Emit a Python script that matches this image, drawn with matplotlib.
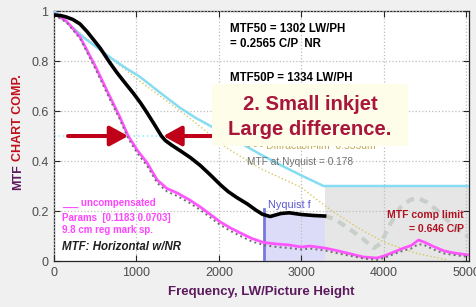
import matplotlib
matplotlib.use("Agg")
import matplotlib.pyplot as plt
from matplotlib.patches import Rectangle, FancyArrowPatch

plt.rcParams['font.family'] = ['Liberation Sans', 'DejaVu Sans']

# --- data ---
freq_black = [0, 80, 150, 230, 316, 400, 480, 559, 680, 760, 838, 960, 1050, 1130,
              1210, 1260, 1302, 1350, 1420, 1531, 1652, 1774, 1900, 2017, 2110, 2211,
              2345, 2450, 2527, 2620, 2750, 2850, 3000, 3150, 3280]
mtf_black = [0.984, 0.982, 0.976, 0.966, 0.948, 0.918, 0.885, 0.852, 0.792, 0.755,
             0.722, 0.672, 0.632, 0.592, 0.55, 0.523, 0.50, 0.482, 0.465, 0.441, 0.414,
             0.382, 0.343, 0.305, 0.278, 0.255, 0.228, 0.203, 0.187, 0.178, 0.19,
             0.193, 0.186, 0.182, 0.18]

freq_mag = [0, 150, 316, 500, 680, 800, 900, 1008, 1130, 1251, 1370, 1494, 1640,
            1774, 1900, 2017, 2140, 2260, 2400, 2540, 2700, 2850, 3000, 3100, 3280,
            3450, 3600, 3750, 3910, 4000, 4120, 4240, 4330, 4420, 4500, 4600, 4730,
            4850, 5030]
mtf_mag = [0.99, 0.96, 0.896, 0.78, 0.656, 0.575, 0.5, 0.444, 0.392, 0.324, 0.29,
           0.272, 0.245, 0.216, 0.185, 0.156, 0.132, 0.112, 0.09, 0.074, 0.068,
           0.064, 0.056, 0.06, 0.052, 0.04, 0.028, 0.016, 0.012, 0.02, 0.036, 0.052,
           0.062, 0.084, 0.074, 0.058, 0.04, 0.032, 0.024]
mtf_unc = [0.985, 0.955, 0.89, 0.77, 0.645, 0.565, 0.49, 0.432, 0.38, 0.312, 0.278,
           0.26, 0.233, 0.204, 0.173, 0.144, 0.12, 0.1, 0.078, 0.064, 0.056,
           0.052, 0.046, 0.05, 0.042, 0.03, 0.02, 0.01, 0.004, 0.012, 0.028, 0.042,
           0.05, 0.068, 0.062, 0.046, 0.03, 0.024, 0.016]

freq_ext = [3280, 3400, 3550, 3718, 3876, 3960, 4080, 4200, 4320, 4410, 4520, 4640,
            4760, 4880, 5030]
mtf_ext = [0.18, 0.168, 0.135, 0.096, 0.052, 0.07, 0.15, 0.215, 0.245, 0.252, 0.235,
           0.204, 0.165, 0.13, 0.095]

freq_cyan = [0, 180, 352, 530, 700, 870, 1045, 1300, 1531, 1720, 1920, 2090, 2260,
             2500, 2746, 3000, 3268, 5030]
mtf_cyan = [1.0, 0.948, 0.896, 0.852, 0.81, 0.772, 0.736, 0.67, 0.612, 0.572, 0.536,
            0.503, 0.472, 0.427, 0.384, 0.342, 0.30, 0.30]

freq_diff = [0, 500, 1000, 1652, 2078, 2500, 2989, 3354, 3700, 3998, 4400, 4775]
mtf_diff = [1.0, 0.86, 0.73, 0.57, 0.456, 0.37, 0.296, 0.204, 0.13, 0.076, 0.03, 0.004]

nyquist = 2540
comp_limit_f = 3280
x_ticks = [0, 1000, 2000, 3000, 4000, 5000]
y_ticks = [0, 0.2, 0.4, 0.6, 0.8, 1]

fig = plt.figure(figsize=(4.76, 3.07), dpi=100, facecolor='#f0f0f0')
ax = fig.add_axes([0.1134, 0.1498, 0.8718, 0.8143])
ax.set_facecolor('white')

# shaded regions
nyq_f = [f for f in freq_black if f >= nyquist]
nyq_m = [m for f, m in zip(freq_black, mtf_black) if f >= nyquist]
ax.fill_between([nyquist] + nyq_f, [0.178] + nyq_m, 0, color='#dcdcf8', zorder=0.5, lw=0)
ax.add_patch(Rectangle((comp_limit_f, 0), 5030 - comp_limit_f, 0.30,
                       facecolor='#e6e6e6', edgecolor='none', zorder=0.5))

ax.grid(True, linestyle=':', color='#bdbdbd', linewidth=0.9, zorder=1)
ax.set_axisbelow(False)

ax.plot([0, 2000], [0.5, 0.5], color='#9ff0ff', lw=1.2, ls=':', zorder=2)
ax.plot(freq_diff, mtf_diff, color='#d8c860', lw=1.0, ls=':', zorder=2)
ax.plot(freq_cyan, mtf_cyan, color='#86dcf2', lw=1.8, zorder=3)
ax.plot(freq_ext, mtf_ext, color='#c8cfc8', lw=3, ls=(0, (2, 1.5)), zorder=3)
ax.plot([nyquist, nyquist], [0, 0.21], color='#7878dc', lw=2, zorder=3)
ax.plot(freq_mag, mtf_mag, color='#ff55ff', lw=2, zorder=4)
ax.plot(freq_mag, mtf_unc, color='#707070', lw=1.4, ls=':', zorder=4)
ax.plot(freq_black, mtf_black, color='black', lw=2.6, zorder=5)

# arrows
arrow_c = '#c00018'
for x0, x1 in [(170, 900), (1990, 1324)]:
    ax.add_patch(FancyArrowPatch((x0, 0.5), (x1, 0.5),
                                 arrowstyle='-|>,head_length=0.55,head_width=0.3',
                                 mutation_scale=20, color=arrow_c, lw=2.9,
                                 shrinkA=0, shrinkB=0, zorder=6))

# annotations
ax.text(2139, 0.928, 'MTF50 = 1302 LW/PH', fontsize=8.3, fontweight='bold', va='center', zorder=7)
ax.text(2139, 0.868, '= 0.2565 C/P  NR', fontsize=8.3, fontweight='bold', va='center', zorder=7)
ax.text(2139, 0.732, 'MTF50P = 1334 LW/PH', fontsize=8.3, fontweight='bold', va='center', zorder=7)
ax.text(2345, 0.462, '- - - Diffraction-lim  0.555um', fontsize=7.5, color='#c0a850', va='center', zorder=6)
ax.text(2345, 0.396, 'MTF at Nyquist = 0.178', fontsize=7.3, color='#707070', va='center', zorder=7)
ax.text(2600, 0.224, 'Nyquist f', fontsize=7.8, color='#5a5ad0', va='center', zorder=7)
ax.text(4970, 0.184, 'MTF comp limit', fontsize=7.5, fontweight='bold', color='#b01020',
        ha='right', va='center', zorder=7)
ax.text(4970, 0.128, '= 0.646 C/P', fontsize=7.5, fontweight='bold', color='#b01020',
        ha='right', va='center', zorder=7)

mag_c = '#ff44ff'
ax.text(97, 0.232, '___ uncompensated', fontsize=7, fontweight='bold', color=mag_c, va='center', zorder=7)
ax.text(97, 0.172, 'Params  [0.1183 0.0703]', fontsize=7, fontweight='bold', color=mag_c, va='center', zorder=7)
ax.text(97, 0.124, '9.8 cm reg mark sp.', fontsize=7, fontweight='bold', color=mag_c, va='center', zorder=7)
ax.text(97, 0.056, 'MTF: Horizontal w/NR', fontsize=8.3, fontweight='bold', style='italic',
        color='#202020', va='center', zorder=7)

# callout box
ax.add_patch(Rectangle((1920, 0.46), 2370, 0.248, facecolor='#fdfdea', edgecolor='none', zorder=6.5))
ax.text(3105, 0.604, '2. Small inkjet', fontsize=14.6, fontweight='bold', color='#a8163c',
        ha='center', va='baseline', zorder=7)
ax.text(3105, 0.504, 'Large difference.', fontsize=14.6, fontweight='bold', color='#a8163c',
        ha='center', va='baseline', zorder=7)

ax.set_xlim(0, 5030)
ax.set_ylim(0, 1)
ax.set_xticks(x_ticks)
ax.set_yticks(y_ticks)
ax.set_yticklabels(['0', '0.2', '0.4', '0.6', '0.8', '1'])
ax.tick_params(direction='in', length=4, top=True, right=True, labelsize=9,
               labelcolor='#4d4d4d', color='#262626', pad=4)
for s in ax.spines.values():
    s.set_color('#262626')
    s.set_linewidth(0.9)

ax.set_xlabel('Frequency, LW/Picture Height', fontsize=9.5, fontweight='bold', color='#5c1a5e', labelpad=5)
fig.text(0.038, (307 - 190) / 307, 'MTF', rotation=90, fontsize=9, fontweight='bold',
         color='#5c1a5e', ha='center', va='bottom')
fig.text(0.038, (307 - 161) / 307, 'CHART COMP.', rotation=90, fontsize=9, fontweight='bold',
         color='#c0101a', ha='center', va='bottom')

fig.savefig('out.png', dpi=100, facecolor=fig.get_facecolor())
